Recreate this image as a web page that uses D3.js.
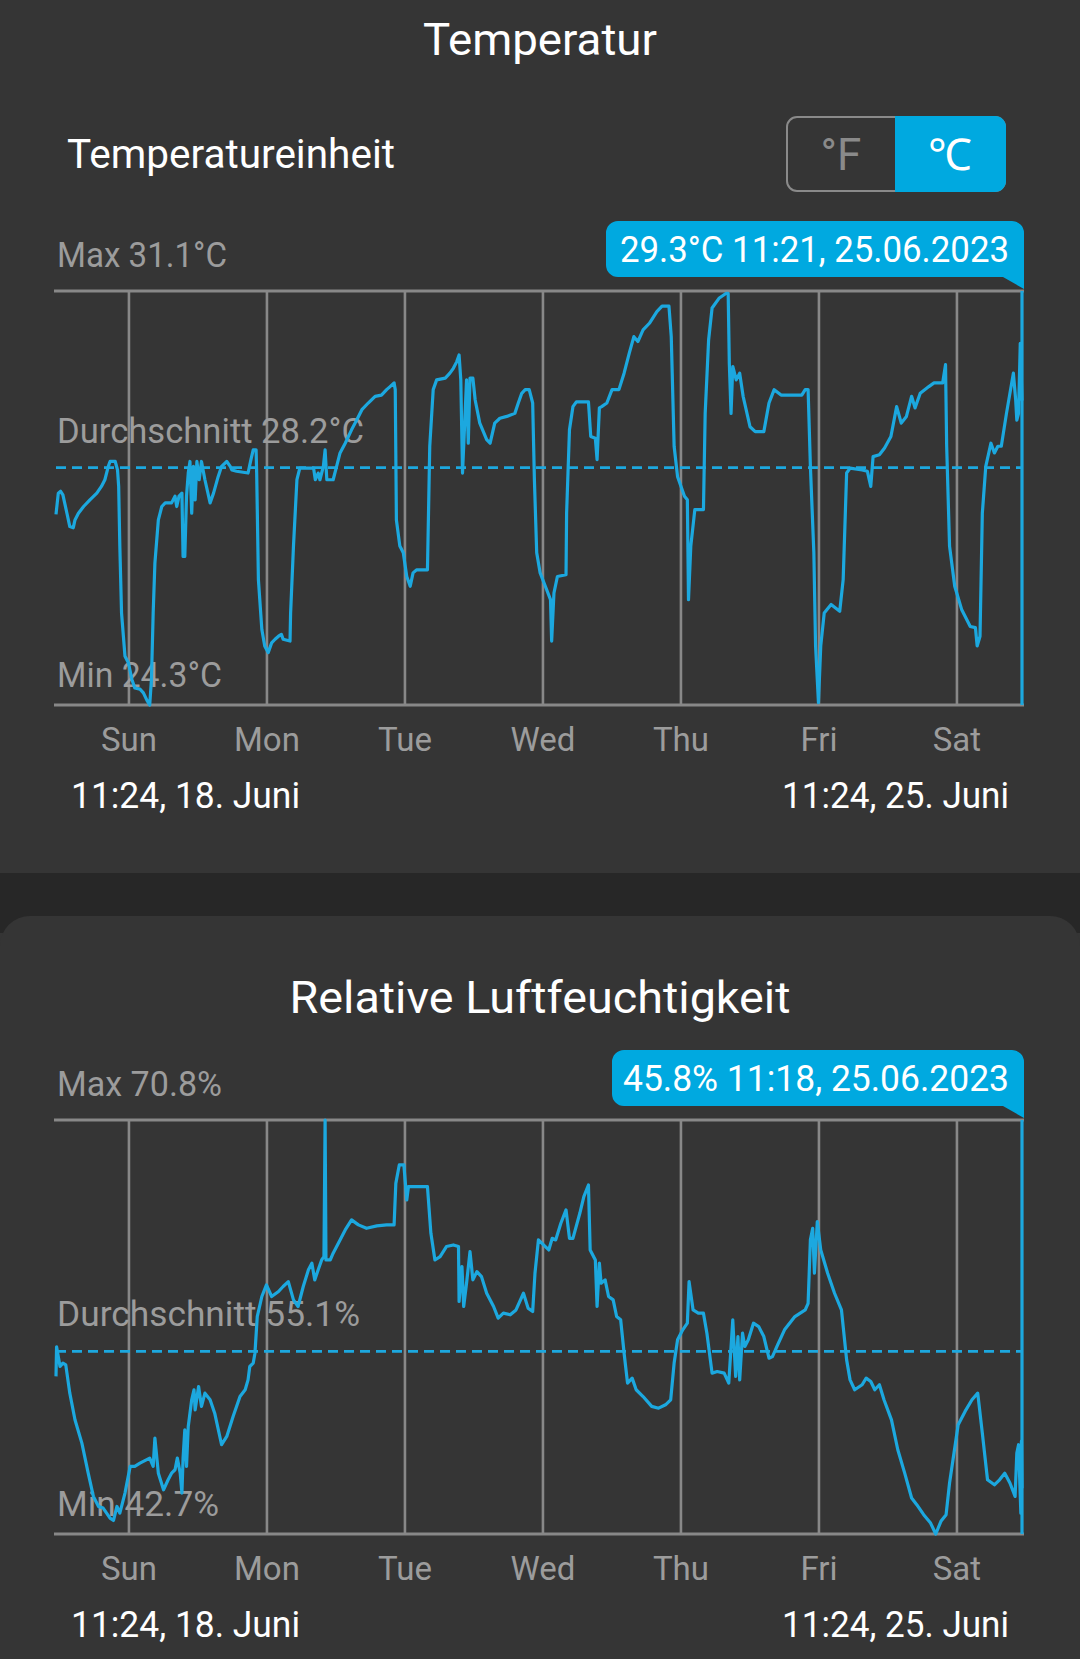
<!DOCTYPE html>
<html><head><meta charset="utf-8">
<script src="https://cdn.jsdelivr.net/npm/d3@7/dist/d3.min.js"></script>
<style>html,body{margin:0;padding:0;background:#353535;}svg{display:block}</style>
</head><body>
<svg id="c" width="1080" height="1659"></svg>
<script>
// ---------- data ----------
const dayNames = ["Sun","Mon","Tue","Wed","Thu","Fri","Sat"];
const rangeStartLabel = "11:24,  18. Juni";
const rangeEndLabel = "11:24,  25. Juni";
const startTime = new Date(2023, 5, 18, 11, 24);
const endTime = new Date(2023, 5, 25, 11, 24);

const tempStats = {max: 31.1, avg: 28.2, min: 24.3};
const humStats = {max: 70.8, avg: 55.1, min: 42.7};
const tempTooltip = "29.3°C 11:21,  25.06.2023";
const humTooltip = "45.8% 11:18,  25.06.2023";

// [hours since start, °C]
const temperature = [
[0,27.43],[0.4,27.78],[0.8,27.81],[1.2,27.75],[1.9,27.45],[2.4,27.23],[3.0,27.21],[3.3,27.34],[3.9,27.45],[4.8,27.56],
[5.9,27.67],[7.1,27.78],[7.9,27.89],[8.5,28.00],[9.1,28.22],[9.4,28.30],[10.3,28.30],[10.7,28.16],[10.9,27.89],[11.1,26.91],
[11.4,25.81],[12.0,25.10],[12.6,24.99],[13.2,24.72],[13.7,24.58],[14.6,24.56],[15.2,24.50],[15.8,24.38],[16.3,24.30],[16.6,24.72],
[16.9,25.81],[17.2,26.63],[17.8,27.34],[18.4,27.56],[19.0,27.62],[20.1,27.62],[20.7,27.73],[21.0,27.56],[21.4,27.73],[21.9,27.78],
[22.1,26.74],[22.4,26.74],[22.7,27.73],[23.0,28.11],[23.3,28.30],[23.6,27.45],[23.9,28.22],[24.2,27.67],[24.5,28.30],[24.9,28.00],
[25.3,28.30],[25.9,28.00],[26.8,27.62],[27.4,27.78],[28.2,28.05],[28.8,28.22],[29.7,28.30],[30.3,28.22],[30.6,28.16],[31.4,28.14],
[33.4,28.11],[33.9,28.33],[34.3,28.49],[34.8,28.49],[34.9,28.11],[35.2,26.36],[35.8,25.54],[36.3,25.27],[36.9,25.16],[37.5,25.32],
[38.1,25.38],[38.7,25.43],[39.2,25.46],[39.5,25.38],[40.7,25.35],[40.8,25.81],[41.3,26.91],[41.9,28.00],[42.4,28.19],[44.8,28.19],
[45.1,28.00],[45.6,28.11],[45.9,28.00],[46.5,28.22],[46.8,28.49],[47.1,28.00],[48.2,28.00],[48.8,28.22],[49.4,28.44],[50.3,28.60],
[51.4,28.82],[52.3,28.98],[53.2,29.15],[54.3,29.26],[55.5,29.37],[56.6,29.39],[57.5,29.48],[58.1,29.53],[58.8,29.59],[59.0,29.48],
[59.2,27.34],[59.8,26.91],[60.4,26.80],[61.0,26.41],[61.6,26.25],[62.1,26.47],[62.7,26.52],[64.6,26.52],[65.0,28.55],[65.6,29.48],
[66.2,29.64],[67.7,29.67],[68.5,29.75],[69.1,29.83],[69.7,29.94],[70.1,30.05],[70.4,29.64],[70.7,28.11],[71.1,28.98],[71.4,29.64],
[71.7,28.60],[72.0,29.67],[72.5,29.67],[72.9,29.31],[73.7,28.93],[74.9,28.66],[75.5,28.60],[76.3,28.93],[77.2,29.01],[78.4,29.04],
[79.8,29.09],[80.4,29.26],[81.0,29.42],[81.6,29.48],[82.3,29.48],[82.9,29.26],[83.2,28.00],[83.6,26.80],[84.2,26.47],[85.1,26.25],
[86.0,26.03],[86.2,25.35],[86.6,26.14],[87.2,26.41],[88.7,26.44],[88.8,27.45],[89.3,28.82],[89.9,29.20],[90.5,29.28],[92.6,29.28],
[93.0,28.71],[93.8,28.68],[94.1,28.33],[94.5,29.18],[94.9,29.20],[95.8,29.26],[96.7,29.48],[97.9,29.48],[98.8,29.75],[99.7,30.08],
[100.5,30.35],[101.2,30.27],[102.1,30.46],[103.2,30.57],[104.5,30.76],[105.4,30.85],[106.6,30.85],[107.0,30.35],[107.5,28.55],[108.1,28.05],
[109.3,27.73],[109.8,27.67],[110.0,26.03],[110.4,26.91],[111.1,27.51],[112.6,27.51],[112.9,29.09],[113.5,30.30],[114.1,30.82],[115.3,30.98],
[116.5,31.06],[116.9,31.06],[117.1,29.91],[117.4,29.09],[117.7,29.86],[118.3,29.64],[118.9,29.75],[119.5,29.37],[120.7,28.87],[121.6,28.79],
[123.1,28.79],[124.0,29.26],[124.9,29.48],[126.1,29.39],[129.7,29.39],[130.3,29.48],[130.8,29.48],[131.2,28.22],[131.8,26.80],[132.1,25.27],
[132.6,24.34],[133.0,25.27],[133.6,25.81],[134.8,25.95],[136.3,25.84],[136.9,26.36],[137.5,28.11],[138.1,28.19],[140.2,28.16],[141.1,28.14],
[141.7,27.89],[142.1,28.38],[143.2,28.41],[144.1,28.52],[145.2,28.71],[146.2,29.20],[147.0,28.93],[147.9,29.04],[148.8,29.37],[149.4,29.18],
[150.3,29.42],[151.8,29.53],[152.7,29.59],[154.2,29.59],[154.7,29.89],[154.9,28.55],[155.4,26.91],[156.3,26.25],[157.5,25.87],[159.0,25.59],
[159.9,25.57],[160.2,25.27],[160.7,25.43],[161.1,27.45],[161.7,28.22],[162.6,28.60],[163.2,28.44],[163.8,28.55],[164.4,28.55],[165.3,29.09],
[166.5,29.75],[166.9,29.31],[167.1,28.98],[167.4,29.09],[167.7,30.24],[168.0,29.30]
];

// [hours since start, %]
const humidity = [
[0,53.4],[0.1,55.4],[0.7,54.07],[1.2,54.3],[1.7,54.18],[2.4,52.26],[3.3,50.45],[4.5,48.87],[5.6,46.83],[6.5,45.25],
[7.4,44.57],[8.2,44.46],[8.8,44.12],[9.4,43.78],[10.0,43.62],[10.6,44.57],[11.1,44.12],[12.0,45.48],[12.9,47.29],[13.7,47.29],
[14.6,47.51],[16.3,47.85],[16.9,47.29],[17.2,49.21],[17.8,46.83],[18.7,45.70],[19.5,46.38],[20.1,46.83],[20.7,47.06],[21.1,47.85],
[21.6,46.83],[21.9,45.48],[22.1,47.85],[22.4,49.77],[22.7,47.29],[23.0,50.00],[23.6,51.81],[24.0,52.49],[24.2,51.13],[24.8,52.71],
[25.3,51.36],[25.9,52.26],[26.8,51.81],[27.6,50.90],[28.8,48.76],[29.7,49.32],[30.8,50.68],[32.0,52.03],[32.9,52.49],[33.4,53.16],
[33.7,54.07],[34.3,54.30],[34.6,54.97],[35.0,57.46],[35.8,58.82],[36.6,59.61],[37.5,58.82],[38.7,59.16],[39.5,59.50],[40.4,59.83],
[41.3,58.59],[42.1,58.14],[43.0,59.50],[43.9,60.63],[44.5,61.08],[45.0,59.95],[45.6,60.63],[46.2,61.30],[46.6,61.53],[46.8,70.8],
[46.95,61.3],[47.7,61.30],[48.2,61.76],[49.4,62.66],[50.3,63.34],[51.4,64.02],[52.6,63.68],[54.0,63.45],[55.8,63.61],[57.5,63.68],
[58.8,63.68],[59.1,66.50],[59.7,67.75],[60.5,67.75],[61.0,65.37],[61.3,66.28],[61.9,66.28],[64.6,66.28],[65.2,63.11],[65.9,61.30],
[66.8,61.53],[67.9,62.21],[69.1,62.32],[70.0,62.21],[70.1,58.48],[70.6,60.85],[70.9,58.14],[71.4,59.72],[72.0,61.87],[72.5,59.95],
[73.2,60.51],[74.0,60.17],[74.9,59.04],[76.1,58.14],[76.9,57.35],[77.8,57.69],[79.0,57.58],[80.0,57.91],[81.3,59.04],[82.1,58.03],
[82.9,57.80],[83.3,60.40],[83.9,62.66],[85.1,62.21],[85.7,61.98],[86.3,62.77],[86.9,62.66],[87.8,63.79],[88.7,64.70],[89.3,62.77],
[89.9,62.77],[91.1,64.47],[91.8,65.60],[92.6,66.39],[92.9,61.98],[93.8,61.30],[94.1,58.14],[94.5,61.08],[94.8,59.72],[95.5,59.95],
[96.1,58.82],[96.9,58.59],[97.5,57.46],[98.2,57.24],[98.8,54.97],[99.4,52.94],[100.2,53.28],[100.9,52.49],[102.1,52.03],[103.6,51.36],
[104.8,51.24],[106.0,51.47],[106.9,51.81],[107.5,54.30],[108.1,55.88],[109.0,56.56],[109.8,57.01],[110.1,59.83],[110.8,57.91],[111.7,57.69],
[112.6,57.69],[113.2,56.33],[114.1,53.62],[115.0,53.73],[116.2,53.62],[117.0,52.94],[117.7,57.24],[118.2,53.39],[118.6,56.10],[118.9,53.16],
[119.4,56.33],[119.8,55.43],[120.4,55.88],[121.3,57.01],[122.2,56.78],[123.1,56.10],[124.0,54.63],[124.6,54.74],[125.5,55.54],[126.7,56.56],
[128.5,57.46],[130.3,57.91],[130.8,58.36],[131.2,62.66],[131.6,63.45],[131.9,60.40],[132.4,63.90],[133.0,61.98],[134.2,60.40],[135.4,59.04],
[136.6,57.91],[137.5,54.52],[138.1,53.16],[138.9,52.49],[140.2,52.83],[140.9,53.28],[141.7,53.05],[142.4,52.49],[143.2,52.83],[144.0,51.81],
[145.3,50.45],[146.4,48.42],[147.6,46.83],[148.8,45.14],[149.7,44.69],[150.9,44.01],[152.1,43.44],[153.0,42.70],[153.9,43.56],[154.8,44.01],
[155.4,46.16],[156.0,47.74],[156.9,50.11],[158.1,51.02],[159.3,51.81],[160.3,52.26],[161.1,49.55],[162.0,46.38],[163.2,46.04],[164.1,46.38],
[165.0,46.83],[165.9,46.16],[166.8,45.25],[167.1,48.19],[167.4,48.76],[167.8,44.12],[167.9,49.0],[168.0,45.8]
];

// ---------- styles ----------
const C = {
  bg: "#353535", band: "#272727", blue: "#00a9e0", line: "#1ca8df",
  grid: "#888888", label: "#9c9c9c", white: "#ffffff"
};
const FONT = "Roboto, 'Noto Sans', 'DejaVu Sans', sans-serif";

const svg = d3.select("#c");
svg.append("rect").attr("width",1080).attr("height",1659).attr("fill",C.bg);
svg.append("rect").attr("x",0).attr("y",873).attr("width",1080).attr("height",60).attr("fill",C.band);
svg.append("rect").attr("x",0).attr("y",916).attr("width",1080).attr("height",800).attr("rx",30).attr("fill",C.bg);

const x = d3.scaleTime().domain([startTime, endTime]).range([56, 1022]);
const toDate = h => new Date(startTime.getTime() + h * 3600000);
const days = d3.timeDay.range(d3.timeDay.ceil(startTime), endTime);

function text(g, str, attrs, width) {
  const t = g.append("text").text(str).attr("font-family", FONT);
  for (const k in attrs) t.attr(k, attrs[k]);
  if (width) t.attr("textLength", width).attr("lengthAdjust", "spacingAndGlyphs");
  return t;
}

// Titles
text(svg, "Temperatur", {x:540, y:55, "text-anchor":"middle", "font-size":44, fill:C.white}, 234);
text(svg, "Temperatureinheit", {x:67, y:168, "font-size":40, fill:C.white}, 328);

// Unit toggle
svg.append("rect").attr("x",787).attr("y",117).attr("width",218).attr("height",74).attr("rx",10)
  .attr("fill","none").attr("stroke","#8a8a8a").attr("stroke-width",2);
svg.append("path").attr("d","M895,116 H995 A11,11 0 0 1 1006,127 V181 A11,11 0 0 1 995,192 H895 Z").attr("fill",C.blue);
text(svg, "°F", {x:841, y:170, "text-anchor":"middle", "font-size":44, fill:"#8a8a8a"});
text(svg, "℃", {x:950, y:170, "text-anchor":"middle", "font-size":44, fill:C.white});

function drawChart(cfg) {
  const g = svg.append("g");
  const y = d3.scaleLinear().domain([cfg.stats.min, cfg.stats.max]).range([cfg.bottom, cfg.top]);
  const xEnd = x(endTime);

  // Vertical day grid + day labels (each midnight line is labelled with the day it closes)
  const axis = d3.axisBottom(x).tickValues(days)
    .tickSize(-(cfg.bottom - cfg.top)).tickFormat(d => dayNames[(d.getDay() + 6) % 7]);
  const ax = g.append("g").attr("transform", `translate(0,${cfg.bottom})`).call(axis);
  ax.select(".domain").remove();
  ax.selectAll(".tick line").attr("stroke", C.grid).attr("stroke-width", 2.6);
  ax.selectAll(".tick text").attr("y", 46).attr("dy", null)
    .attr("font-family", FONT).attr("font-size", 33).attr("fill", C.label);

  [cfg.top, cfg.bottom].forEach(v => g.append("line")
    .attr("x1", 54).attr("x2", 1024).attr("y1", v).attr("y2", v)
    .attr("stroke", C.grid).attr("stroke-width", 3));

  text(g, cfg.maxText, {x:57, y:cfg.top - 24, "font-size":35, fill:C.label}, cfg.maxW);
  text(g, cfg.avgText, {x:57, y:y(cfg.stats.avg) - 25, "font-size":35, fill:C.label}, cfg.avgW);
  text(g, cfg.minText, {x:57, y:cfg.bottom - 18, "font-size":35, fill:C.label}, cfg.minW);

  g.append("line").attr("x1", 56).attr("x2", xEnd)
    .attr("y1", y(cfg.stats.avg)).attr("y2", y(cfg.stats.avg))
    .attr("stroke", C.line).attr("stroke-width", 2.8).attr("stroke-dasharray", "10,6");

  const line = d3.line().x(d => x(toDate(d[0]))).y(d => y(d[1])).curve(d3.curveLinear);
  g.append("path").datum(cfg.data).attr("d", line)
    .attr("fill", "none").attr("stroke", C.line).attr("stroke-width", 3.2)
    .attr("stroke-linejoin", "round");

  g.append("line").attr("x1", xEnd).attr("x2", xEnd).attr("y1", cfg.top).attr("y2", cfg.bottom)
    .attr("stroke", C.line).attr("stroke-width", 3.2);

  const r = 12, x1 = xEnd + 2, x0 = cfg.tipX0, y0 = cfg.top - 70, y1 = cfg.top - 14;
  g.append("path").attr("d",
    `M${x0+r},${y0} H${x1-r} A${r},${r} 0 0 1 ${x1},${y0+r} V${cfg.top-2} L${x1-21},${y1} H${x0+r} A${r},${r} 0 0 1 ${x0},${y1-r} V${y0+r} A${r},${r} 0 0 1 ${x0+r},${y0} Z`)
    .attr("fill", C.blue);
  text(g, cfg.tipText, {x:1009, y:y0 + 41, "text-anchor":"end", "font-size":37, fill:C.white}, cfg.tipW);

  text(g, rangeStartLabel, {x:71, y:cfg.bottom + 103, "font-size":37, fill:C.white}, 229);
  text(g, rangeEndLabel, {x:1009, y:cfg.bottom + 103, "text-anchor":"end", "font-size":37, fill:C.white}, 227);
}

drawChart({
  top: 291, bottom: 705, stats: tempStats, data: temperature,
  maxText: `Max ${tempStats.max}°C`, maxW: 170,
  avgText: `Durchschnitt ${tempStats.avg}°C`, avgW: 307,
  minText: `Min ${tempStats.min}°C`, minW: 165,
  tipText: tempTooltip, tipW: 389, tipX0: 606
});

text(svg, "Relative Luftfeuchtigkeit", {x:540, y:1013, "text-anchor":"middle", "font-size":44, fill:C.white}, 501);

drawChart({
  top: 1120, bottom: 1534, stats: humStats, data: humidity,
  maxText: `Max ${humStats.max}%`, maxW: 165,
  avgText: `Durchschnitt ${humStats.avg}%`, avgW: 303,
  minText: `Min ${humStats.min}%`, minW: 162,
  tipText: humTooltip, tipW: 386, tipX0: 612
});
</script>
</body></html>
